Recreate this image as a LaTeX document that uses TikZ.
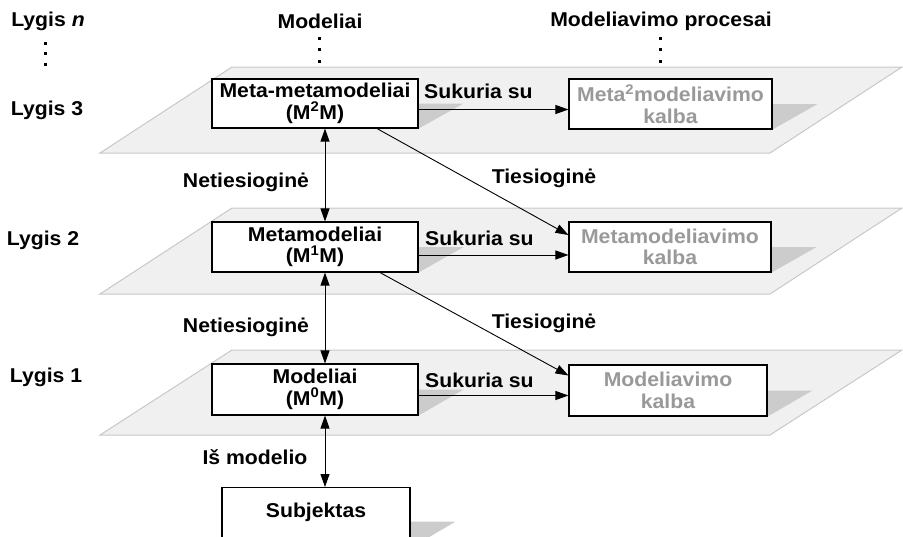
\documentclass[tikz,border=0pt]{standalone}
\usepackage{fontspec}
\setmainfont[FakeStretch=1.06]{Liberation Sans}
\usetikzlibrary{arrows.meta,calc}
\definecolor{planefill}{RGB}{240,240,240}
\definecolor{planeedge}{RGB}{200,200,200}
\definecolor{shadowgray}{RGB}{204,204,204}
\definecolor{langtext}{RGB}{153,153,153}
\pgfdeclarelayer{bg}
\pgfsetlayers{bg,main}
\begin{document}
\begin{tikzpicture}[x=1pt,y=-1pt,
  font=\fontsize{20}{21.5}\selectfont\bfseries,
  plane/.style={fill=planefill,draw=planeedge,line width=1pt},
  box/.style={draw=black,line width=1.1pt,fill=white,align=center,inner sep=0pt},
  langbox/.style={box,text=langtext},
  shade/.style={fill=shadowgray},
  lbl/.style={inner sep=0pt},
  conn/.style={line width=0.9pt,-{Triangle[length=13pt,width=9pt]}},
  bconn/.style={line width=0.9pt,{Triangle[length=13pt,width=9pt]}-{Triangle[length=13pt,width=9pt]}},
  dot/.style={fill=black}
]
\useasboundingbox (0,0) rectangle (903,536);

% level planes
\begin{pgfonlayer}{bg}
  \path[plane] (100,153) -- (232,67) -- (902,67) -- (770,153) -- cycle;
  \path[plane] (100,294) -- (232,208) -- (902,208) -- (770,294) -- cycle;
  \path[plane] (100,435) -- (232,350) -- (902,350) -- (770,435) -- cycle;
\end{pgfonlayer}

% headers and level names
\node[lbl] (lyn) at (48,21) {Lygis \textit{n}};
\node[lbl] (ly3) at (47,110) {Lygis 3};
\node[lbl] (ly2) at (43,240) {Lygis 2};
\node[lbl] (ly1) at (46,377) {Lygis 1};
\node[lbl] (hm) at (320,21) {Modeliai};
\node[lbl] (hp) at (661,21) {Modeliavimo procesai};

% continuation dots
\foreach \x/\y in {45/43,45/53,45/64,319/38,319/49,319/61,660/38,660/49,660/61}
  \fill[dot] (\x-1.5,\y-1.5) rectangle ++(3,3);

% boxes
\node[box,minimum width=206pt,minimum height=49pt] (m2) at (315,103.5) {Meta-metamodeliai\\(M\textsuperscript{2}M)};
\node[langbox,minimum width=203pt,minimum height=50pt] (p3) at (670.5,104) {Meta\textsuperscript{2}modeliavimo\\kalba};
\node[box,minimum width=206pt,minimum height=50pt] (m1) at (315,247) {Metamodeliai\\(M\textsuperscript{1}M)};
\node[langbox,minimum width=202pt,minimum height=50pt] (p2) at (670,247) {Metamodeliavimo\\kalba};
\node[box,minimum width=206pt,minimum height=51pt] (m0) at (315,389.5) {Modeliai\\(M\textsuperscript{0}M)};
\node[langbox,minimum width=198pt,minimum height=51pt] (p1) at (668,390.5) {Modeliavimo\\kalba};
\node[box,minimum width=188pt,minimum height=60pt,text depth=15pt,anchor=north] (subj) at (316,487) {Subjektas};

% cast shadows
\begin{pgfonlayer}{bg}
  \foreach \b in {m2,p3,m1,p2,m0,p1}
    \fill[shade] (\b.center) -- ([xshift=45pt]\b.east) -- (\b.south east) -- (\b.south) -- cycle;
  \fill[shade] ([yshift=-4pt]subj.center) -- ([xshift=45pt,yshift=-4pt]subj.east) -- (subj.south east) -- (subj.south) -- cycle;
\end{pgfonlayer}

% vertical links
\coordinate (ax) at (325,0);
\draw[bconn] (m2.south -| ax) -- (m1.north -| ax);
\draw[bconn] (m1.south -| ax) -- (m0.north -| ax);
\draw[bconn] (m0.south -| ax) -- (subj.north -| ax);

% creation links
\draw[conn] ([yshift=-6pt]m2.east) -- ([yshift=-6pt]m2.east -| p3.west);
\draw[conn] ([yshift=-8pt]m1.east) -- ([yshift=-8pt]m1.east -| p2.west);
\draw[conn] ([yshift=-6pt]m0.east) -- ([yshift=-6pt]m0.east -| p1.west);

% direct links
\draw[conn] ([xshift=62pt]m2.south) -- ([yshift=12pt]p2.west);
\draw[conn] ([xshift=65pt]m1.south) -- ([yshift=15pt]p1.west);

% link labels
\node[lbl,anchor=west] (su3) at (424,91) {Sukuria su};
\node[lbl,anchor=west] (su2) at (425,238) {Sukuria su};
\node[lbl,anchor=west] (su1) at (425,380) {Sukuria su};
\node[lbl] (nt1) at (246,182) {Netiesioginė};
\node[lbl] (nt2) at (246,327) {Netiesioginė};
\node[lbl] (ti1) at (544,178) {Tiesioginė};
\node[lbl] (ti2) at (544,323) {Tiesioginė};
\node[lbl] (im) at (255,457) {Iš modelio};
\end{tikzpicture}
\end{document}
